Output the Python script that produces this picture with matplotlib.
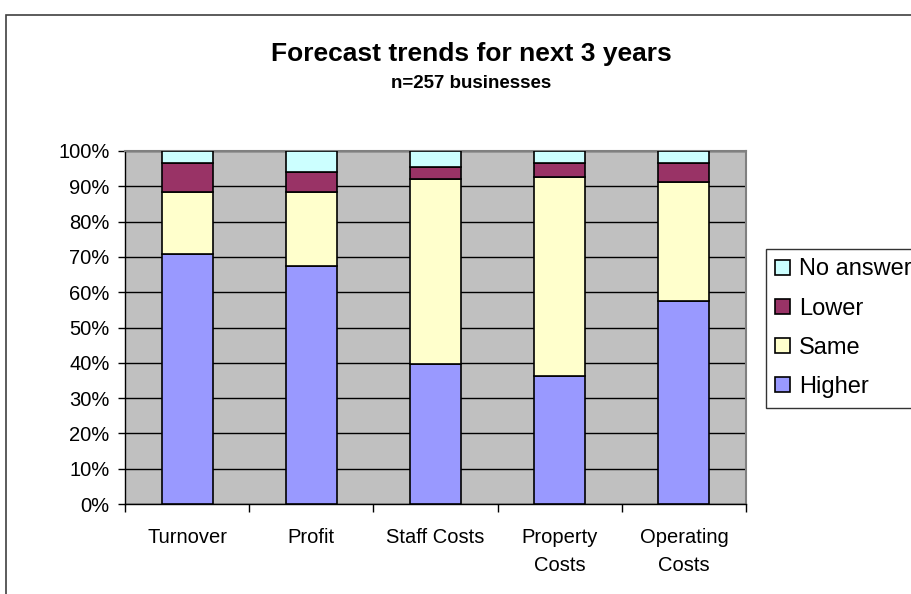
import numpy as np
import matplotlib.pyplot as plt
from matplotlib.patches import Rectangle
from matplotlib.ticker import MultipleLocator, FixedLocator, PercentFormatter

plt.rcParams['font.family'] = ['Liberation Sans', 'DejaVu Sans']

# survey shares, percent of respondents
categories = ['Turnover', 'Profit', 'Staff Costs', 'Property\nCosts', 'Operating\nCosts']
higher = [70.8, 67.4, 39.7, 36.3, 57.4]
same = [17.6, 21.0, 52.5, 56.3, 33.8]
lower = [8.1, 5.7, 3.4, 4.0, 5.4]
no_answer = [3.5, 5.9, 4.4, 3.4, 3.4]

series = [('Higher', higher, '#9999FF'),
          ('Same', same, '#FFFFCC'),
          ('Lower', lower, '#993366'),
          ('No answer', no_answer, '#CCFFFF')]

fig = plt.figure(figsize=(9.12, 5.94), dpi=100)
fig.patch.set_facecolor('white')

# chart area frame (runs off the right and bottom edge)
fig.patches.append(Rectangle((6/912, -0.2), 1.2, 1.2 - 15/594,
                             transform=fig.transFigure, fill=False,
                             edgecolor='#404040', linewidth=1.2, zorder=0))

ax = fig.add_axes([125/912, 1 - 504/594, (746 - 125)/912, (504 - 151)/594])
ax.set_facecolor('#C0C0C0')

x = np.arange(len(categories))
bottom = np.zeros(len(categories))
handles = {}
for name, vals, col in series:
    vals = np.array(vals)
    b = ax.bar(x, vals, width=0.41, bottom=bottom, color=col,
               edgecolor='black', linewidth=1.2, zorder=3, label=name)
    handles[name] = b
    bottom += vals

ax.set_xlim(-0.5, len(categories) - 0.5)
ax.set_ylim(0, 100)
ax.yaxis.set_major_locator(MultipleLocator(10))
ax.yaxis.set_major_formatter(PercentFormatter(decimals=0))
ax.grid(axis='y', color='black', linewidth=1.0, zorder=1)
ax.set_axisbelow(True)

# ticks on category boundaries, labels at centres
ax.xaxis.set_major_locator(FixedLocator(np.arange(-0.5, len(categories), 1.0)))
ax.xaxis.set_major_formatter(plt.NullFormatter())
ax.xaxis.set_minor_locator(FixedLocator(x))
ax.set_xticklabels(categories, minor=True)
ax.tick_params(axis='x', which='major', direction='out', length=6, width=1)
ax.tick_params(axis='x', which='minor', length=0, pad=17, labelsize=14.5)
ax.tick_params(axis='y', direction='out', length=5, width=1, pad=6, labelsize=14.5)
for lab in ax.get_xticklabels(minor=True):
    lab.set_linespacing(1.6)

for s in ['left', 'bottom']:
    ax.spines[s].set_color('black')
    ax.spines[s].set_linewidth(1.0)
for s in ['top', 'right']:
    ax.spines[s].set_color('#808080')
    ax.spines[s].set_linewidth(1.5)

fig.text(471/912, 1 - 54/594, 'Forecast trends for next 3 years',
         ha='center', va='center', fontsize=19, fontweight='bold')
fig.text(471/912, 1 - 84/594, 'n=257 businesses',
         ha='center', va='center', fontsize=13.5, fontweight='bold')

order = ['No answer', 'Lower', 'Same', 'Higher']
leg = fig.legend([handles[n] for n in order], order,
                 loc='upper left', bbox_to_anchor=(766/912, 1 - 249/594),
                 borderaxespad=0, fontsize=17, frameon=True, fancybox=False,
                 edgecolor='black', handlelength=0.6, handleheight=0.6,
                 handletextpad=0.4, labelspacing=0.73, borderpad=0.4)
leg.get_frame().set_linewidth(1.0)

fig.savefig('out.png', dpi=100)
